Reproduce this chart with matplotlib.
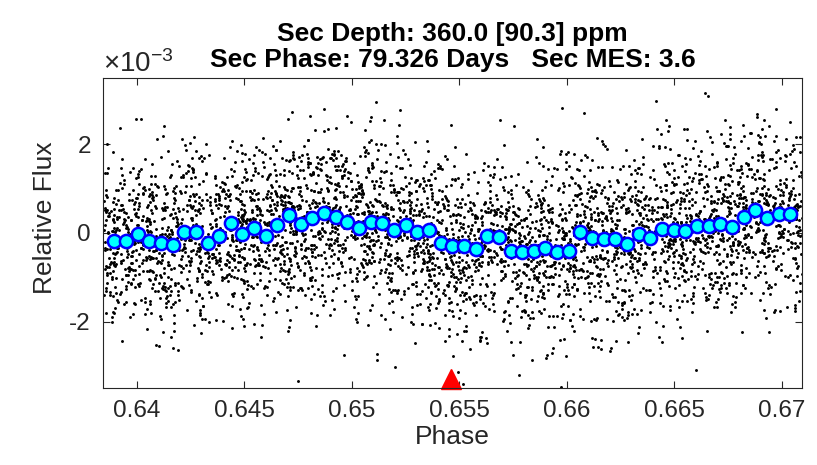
import numpy as np
import matplotlib
matplotlib.use('Agg')
import matplotlib.pyplot as plt

plt.rcParams['font.family'] = ['Liberation Sans', 'DejaVu Sans']
plt.rcParams['mathtext.fontset'] = 'custom'
plt.rcParams['mathtext.rm'] = 'Liberation Sans'
plt.rcParams['mathtext.it'] = 'Liberation Sans:italic'

# binned light curve (phase, relative flux in units of 1e-3)
bin_start = 0.63896
bin_step = 0.000542
bin_flux = [-0.18, -0.18, -0.03, -0.18, -0.22, -0.28, 0.01, 0.02, -0.22, -0.07,
            0.23, -0.03, 0.11, -0.07, 0.18, 0.40, 0.19, 0.34, 0.44, 0.36,
            0.24, 0.12, 0.24, 0.23, 0.06, 0.18, 0.01, 0.06, -0.22, -0.30,
            -0.30, -0.37, -0.07, -0.09, -0.41, -0.43, -0.41, -0.34, -0.43, -0.40,
            0.01, -0.12, -0.14, -0.14, -0.25, -0.03, -0.11, 0.08, 0.06, 0.05,
            0.15, 0.16, 0.21, 0.14, 0.36, 0.51, 0.33, 0.43, 0.43]
bin_phase = bin_start + bin_step * np.arange(len(bin_flux))

# raw points: cloud scatter around the binned level (std ~1e-3)
n_raw = 4300
raw_scatter = 1.0
sec_phase = 0.65464
sec_marker_flux = -3.29

xlim = (0.638447, 0.670958)
ylim = (-3.49, 3.49)

rng = np.random.default_rng(7)
raw_phase = rng.uniform(xlim[0], xlim[1], n_raw)
idx = np.clip(np.rint((raw_phase - bin_start) / bin_step).astype(int), 0, len(bin_flux) - 1)
raw_flux = np.array(bin_flux)[idx] + rng.normal(0, raw_scatter, n_raw)

fig = plt.figure(figsize=(8.17, 4.65), dpi=100)
ax = fig.add_axes([0.1264, 0.1662, 0.8556, 0.6661])

ax.plot(raw_phase, raw_flux * 1e-3, 'o', color='k', markersize=2.1, markeredgewidth=0)
ax.plot(bin_phase, np.array(bin_flux) * 1e-3, 'o', markersize=9.5,
        markerfacecolor='#00ffff', markeredgecolor='#0000ff', markeredgewidth=1.8)
ax.plot([sec_phase], [sec_marker_flux * 1e-3], '^', color='red', markersize=14, clip_on=False)

ax.set_xlim(xlim)
ax.set_ylim(ylim[0] * 1e-3, ylim[1] * 1e-3)
ax.set_xticks([0.64, 0.645, 0.65, 0.655, 0.66, 0.665, 0.67])
ax.set_xticklabels(['0.64', '0.645', '0.65', '0.655', '0.66', '0.665', '0.67'])
ax.set_yticks([-2e-3, 0, 2e-3])
ax.set_yticklabels(['-2', '0', '2'])

dark = '#262626'
ax.tick_params(direction='in', length=5, width=0.8, colors=dark, labelsize=17.5,
               top=True, right=True, pad=9)
for s in ax.spines.values():
    s.set_color(dark)
    s.set_linewidth(0.8)

ax.set_xlabel('Phase', fontsize=19, color=dark, labelpad=2)
ax.set_ylabel('Relative Flux', fontsize=19, color=dark)
ax.yaxis.set_label_coords(-0.066, 0.548)

ax.text(0.0, 1.019, r'$\times\mathregular{10^{-3}}$', transform=ax.transAxes,
        fontsize=20, color=dark, ha='left', va='baseline')

ax.set_title('Sec Depth: 360.0 [90.3] ppm\nSec Phase: 79.326 Days   Sec MES: 3.6',
             fontsize=19, fontweight='bold', pad=8, linespacing=1.1)

fig.savefig('out.png', dpi=100)
